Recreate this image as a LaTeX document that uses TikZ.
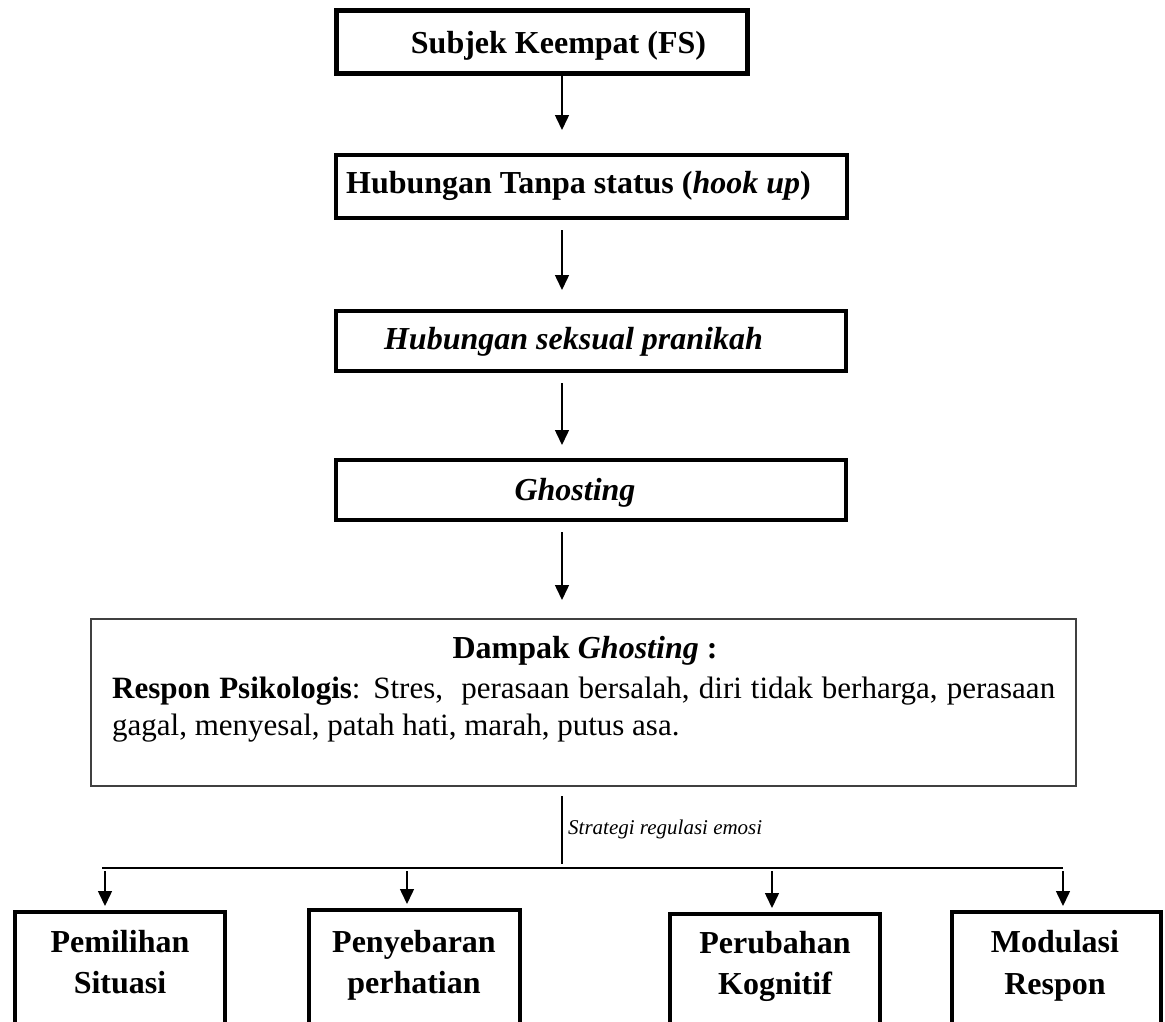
\documentclass[tikz,border=0pt]{standalone}
\usepackage{fontspec}
\setmainfont{Liberation Serif}
\usetikzlibrary{arrows.meta}
\begin{document}
\begin{tikzpicture}[x=1pt,y=-1pt,
  heavybox/.style={draw=black, line width=5pt, inner sep=0pt},
  stdbox/.style={draw=black, line width=4pt, inner sep=0pt},
  thinbox/.style={draw=black!75, line width=2pt, inner sep=0pt},
  boxtext/.style={anchor=base, inner sep=0pt, font=\fontsize{32}{38}\selectfont\bfseries},
  bodytext/.style={anchor=base west, inner sep=0pt, font=\fontsize{31}{37}\selectfont},
  arr/.style={-{Triangle[length=15pt,width=14pt]}, line width=1.5pt},
  plain/.style={line width=1.5pt}
]
\useasboundingbox (0,0) rectangle (1165,1021);
\clip (0,0) rectangle (1165,1021);

% main chain of boxes
\node[heavybox, minimum width=411pt, minimum height=63pt] (b1) at (542,42) {};
\node[stdbox, minimum width=511pt, minimum height=63pt] (b2) at (591.5,186.5) {};
\node[stdbox, minimum width=510pt, minimum height=60pt] (b3) at (591,341) {};
\node[stdbox, minimum width=510pt, minimum height=60pt] (b4) at (591,490) {};
\node[thinbox, minimum width=985pt, minimum height=167pt] (big) at (583.5,702.5) {};

\node[boxtext] (t1) at (558.5,53) {Subjek Keempat (FS)};
\node[boxtext] (t2) at (578.5,193) {Hubungan Tanpa status (\textit{hook up})};
\node[boxtext] (t3) at (573.5,349) {\textit{Hubungan seksual pranikah}};
\node[boxtext] (t4) at (575,500) {\textit{Ghosting}};

% text of the large box
\node[boxtext] (d0) at (585,658) {Dampak \textit{Ghosting} :};
\node[bodytext] (d1) at (112,698) {\makebox[943pt][s]{\textbf{Respon Psikologis}: Stres,~ perasaan bersalah, diri tidak berharga, perasaan}};
\node[bodytext] (d2) at (112,735) {gagal, menyesal, patah hati, marah, putus asa.};

% strategy boxes
\node[stdbox, minimum width=210pt, minimum height=126pt] (sA) at (120,975) {};
\node[stdbox, minimum width=211pt, minimum height=128pt] (sB) at (414.5,974) {};
\node[stdbox, minimum width=210pt, minimum height=124pt] (sC) at (775,976) {};
\node[stdbox, minimum width=209pt, minimum height=126pt] (sD) at (1056.5,975) {};

\node[boxtext] (a1) at (120,952) {Pemilihan};
\node[boxtext] (a2) at (120,993) {Situasi};
\node[boxtext] (c1) at (414,952) {Penyebaran};
\node[boxtext] (c2) at (414,993) {perhatian};
\node[boxtext] (e1) at (775,953) {Perubahan};
\node[boxtext] (e2) at (775,994) {Kognitif};
\node[boxtext] (g1) at (1055,952) {Modulasi};
\node[boxtext] (g2) at (1055,994) {Respon};

% connectors
\coordinate (spine) at (562,0);
\draw[arr, shorten >=23pt] (b1.south -| spine) -- (b2.north -| spine);
\draw[arr, shorten <=10pt, shorten >=19pt] (b2.south -| spine) -- (b3.north -| spine);
\draw[arr, shorten <=10pt, shorten >=13pt] (b3.south -| spine) -- (b4.north -| spine);
\draw[arr, shorten <=10pt, shorten >=18pt] (b4.south -| spine) -- (big.north -| spine);

\coordinate (busL) at (102,868);
\coordinate (busR) at (1063,868);
\draw[line width=2.5pt] (busL) -- (busR);
\draw[plain, shorten <=9pt, shorten >=4pt] (big.south -| spine) -- (busL -| spine);
\node[anchor=base west, inner sep=0pt, font=\fontsize{21}{25}\selectfont\itshape] (lab) at (568,834) {Strategi regulasi emosi};

\coordinate (dA) at (105,868);
\coordinate (dB) at (407,868);
\coordinate (dC) at (772,868);
\coordinate (dD) at (1063,868);
\draw[arr, shorten <=3pt, shorten >=4pt] (dA) -- (dA |- sA.north);
\draw[arr, shorten <=3pt, shorten >=4pt] (dB) -- (dB |- sB.north);
\draw[arr, shorten <=3pt, shorten >=4pt] (dC) -- (dC |- sC.north);
\draw[arr, shorten <=3pt, shorten >=4pt] (dD) -- (dD |- sD.north);
\end{tikzpicture}
\end{document}
